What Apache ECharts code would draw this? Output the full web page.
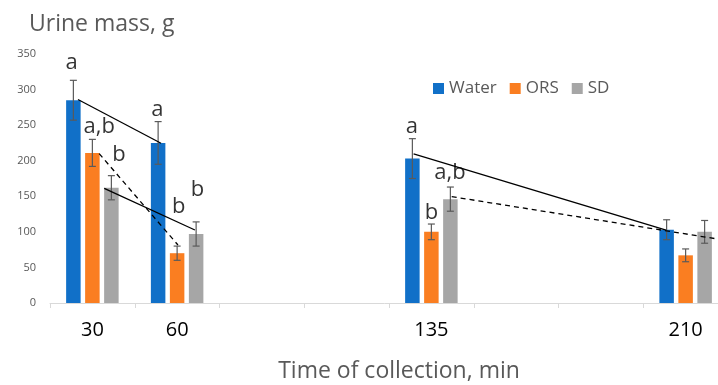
<!DOCTYPE html>
<html>
<head>
<meta charset="utf-8">
<script src="https://cdn.jsdelivr.net/npm/echarts@6/dist/echarts.min.js"></script>
<style>html,body{margin:0;padding:0;background:#fff}#c{width:718px;height:385px}</style>
</head>
<body>
<div id="c"></div>
<script>
// ---- data ----
const categories = ['30', '60', '', '', '135', '', '', '210'];
const seriesNames = ['Water', 'ORS', 'SD'];
const waterMean = [285, 225, '-', '-', 203, '-', '-', 103];
const orsMean   = [211, 70,  '-', '-', 100, '-', '-', 67];
const sdMean    = [162, 97,  '-', '-', 146, '-', '-', 100];
const waterErr  = [28, 30, 0, 0, 28, 0, 0, 14];
const orsErr    = [19, 10, 0, 0, 11, 0, 0, 9];
const sdErr     = [17, 17, 0, 0, 17, 0, 0, 16];
const yTicks = {min: 0, max: 350, step: 50};

// trend lines, in category units along x (0..8) and grams along y
const trendSolid = [
  [[0.33, 286], [1.31, 224.5]],
  [[0.64, 161], [1.71, 102.6]],
  [[4.29, 209.5], [7.27, 102.6]]
];
const trendDashed = [
  [[0.58, 210], [1.51, 81.5]],
  [[4.74, 149.5], [7.9, 89.5]]
];
// significance letters: [x, y, text]
const letters = [
  [0.256, 338, 'a'],
  [0.58, 248, 'a,b'],
  [0.814, 208, 'b'],
  [1.266, 272, 'a'],
  [1.52, 135, 'b'],
  [1.74, 159, 'b'],
  [4.27, 248, 'a'],
  [4.72, 183, 'a,b'],
  [4.50, 126.5, 'b']
];

// ---- style ----
const colors = ['#1170C8', '#FA7E21', '#A6A6A6'];
const BAR_W = 14.5, BAR_GAP = 4.5;
const FONT = '"Open Sans", "Noto Sans", sans-serif';

const means = [waterMean, orsMean, sdMean];
const errs = [waterErr, orsErr, sdErr];
const errData = [];
means.forEach((arr, s) => arr.forEach((v, c) => {
  if (v !== '-') errData.push([c, s, v - errs[s][c], v + errs[s][c]]);
}));

const chart = echarts.init(document.getElementById('c'));
const series = [];
seriesNames.forEach((n, i) => series.push({
  name: n, type: 'bar', xAxisIndex: 0, data: means[i],
  barWidth: BAR_W, barGap: (BAR_GAP / BAR_W * 100) + '%',
  itemStyle: {color: colors[i]}, silent: true, animation: false
}));
series.push({
  type: 'custom', xAxisIndex: 0, data: errData, animation: false, silent: true, z: 5,
  encode: {x: 0, y: [2, 3]},
  renderItem: function (params, api) {
    const c = api.value(0), s = api.value(1);
    const lo = api.coord([c, api.value(2)]);
    const hi = api.coord([c, api.value(3)]);
    const x = lo[0] + (s - 1) * (BAR_W + BAR_GAP);
    const w = 3.5;
    const st = {stroke: '#5a5a5a', lineWidth: 1.2};
    return {type: 'group', children: [
      {type: 'line', shape: {x1: x, y1: lo[1], x2: x, y2: hi[1]}, style: st},
      {type: 'line', shape: {x1: x - w, y1: lo[1], x2: x + w, y2: lo[1]}, style: st},
      {type: 'line', shape: {x1: x - w, y1: hi[1], x2: x + w, y2: hi[1]}, style: st}
    ]};
  }
});
trendSolid.forEach(d => series.push({
  type: 'line', xAxisIndex: 1, data: d, symbol: 'none', silent: true, animation: false, z: 6,
  lineStyle: {color: '#000', width: 1.3}
}));
trendDashed.forEach(d => series.push({
  type: 'line', xAxisIndex: 1, data: d, symbol: 'none', silent: true, animation: false, z: 6,
  lineStyle: {color: '#000', width: 1.3, type: [5, 4]}
}));
series.push({
  type: 'scatter', xAxisIndex: 1, data: letters, symbolSize: 0, silent: true, animation: false, z: 7,
  label: {show: true, position: 'inside', formatter: p => p.data[2], color: '#000', fontSize: 22, fontFamily: FONT}
});

chart.setOption({
  animation: false,
  title: {text: 'Urine mass, g', left: 24, top: 8,
    textStyle: {fontSize: 23, fontWeight: 'normal', color: '#595959', fontFamily: FONT}},
  legend: {data: seriesNames, left: 428, top: 75, icon: 'rect', itemWidth: 11, itemHeight: 11, itemGap: 13,
    textStyle: {fontSize: 17, color: '#595959', fontFamily: FONT}},
  grid: {left: 50, width: 678, top: 54, height: 249, containLabel: false, outerBoundsMode: 'none'},
  xAxis: [
    {type: 'category', data: categories, name: 'Time of collection, min', nameLocation: 'middle', nameGap: 57,
      nameTextStyle: {fontSize: 23, color: '#595959', fontFamily: FONT, padding: [0, 0, 0, 20]},
      axisLine: {lineStyle: {color: '#D9D9D9', width: 1}},
      axisTick: {show: true, length: 5, lineStyle: {color: '#D9D9D9'}},
      axisLabel: {fontSize: 20, color: '#000', fontFamily: FONT, margin: 17, interval: 0},
      splitLine: {show: false}},
    {type: 'value', min: 0, max: 8, show: false, splitLine: {show: false}}
  ],
  yAxis: {type: 'value', min: yTicks.min, max: yTicks.max, interval: yTicks.step,
    axisLine: {show: false}, axisTick: {show: false}, splitLine: {show: false},
    axisLabel: {fontSize: 11, color: '#595959', fontFamily: FONT, margin: 14}},
  series: series
});
</script>
</body>
</html>
